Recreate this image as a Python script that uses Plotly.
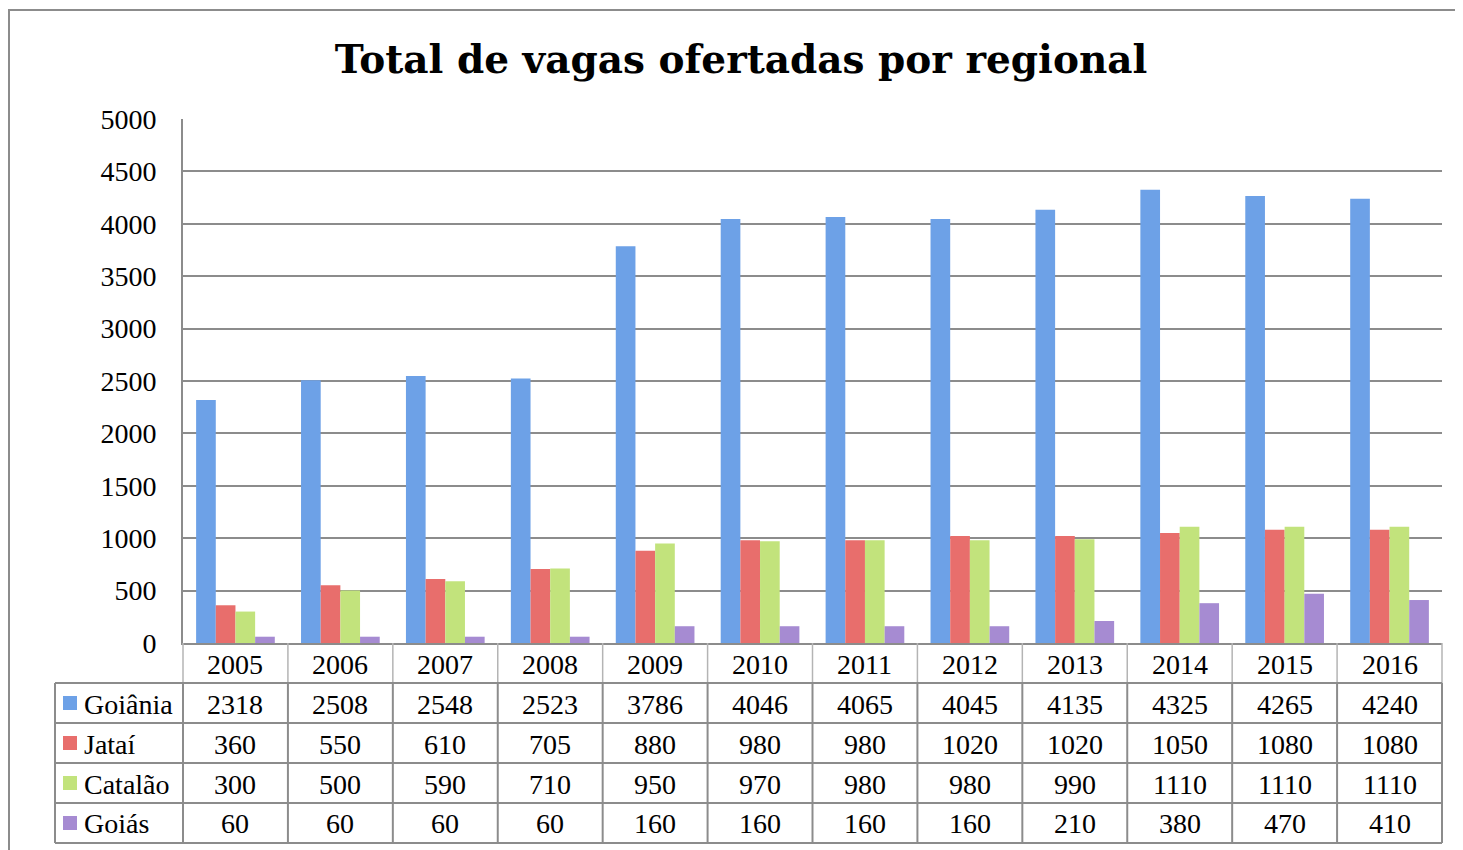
import plotly.graph_objects as go

years = ['2005', '2006', '2007', '2008', '2009', '2010', '2011', '2012', '2013', '2014', '2015', '2016']
goiania = [2318, 2508, 2548, 2523, 3786, 4046, 4065, 4045, 4135, 4325, 4265, 4240]
jatai = [360, 550, 610, 705, 880, 980, 980, 1020, 1020, 1050, 1080, 1080]
catalao = [300, 500, 590, 710, 950, 970, 980, 980, 990, 1110, 1110, 1110]
goias = [60, 60, 60, 60, 160, 160, 160, 160, 210, 380, 470, 410]
series_names = ['Goiânia', 'Jataí', 'Catalão', 'Goiás']
series_values = [goiania, jatai, catalao, goias]
colors = ['#6DA1E7', '#E86E6C', '#C2E37C', '#A68BD2']
title_text = 'Total de vagas ofertadas por regional'

FONT = 'Liberation Serif'
TITLE_FONT = 'DejaVu Serif'
OFF = 8  # page body margin
W, H = 1463, 850
L, R, T, B = 183 - OFF, 1442 - OFF, 119 - OFF, 643 - OFF  # plot area in figure pixels
GRID = '#8c8c8c'


def px_x(p):
    return (p - OFF - L) / (R - L)


def px_y(p):
    return (B - (p - OFF)) / (B - T)


fig = go.Figure()
for name, vals, col in zip(series_names, series_values, colors):
    fig.add_trace(go.Bar(x=years, y=vals, name=name, marker=dict(color=col, line=dict(width=0))))

shapes = []
annotations = []

# outer chart border
shapes.append(dict(type='rect', xref='paper', yref='paper', x0=px_x(9), x1=px_x(1490),
                   y0=px_y(880), y1=px_y(10), line=dict(color=GRID, width=2)))

n = len(years)
row_lines = [683, 723, 763, 803, 843]
# vertical lines of the table (category boundaries)
for i in range(n + 1):
    xb = i / n
    shapes.append(dict(type='line', xref='paper', yref='paper', x0=xb, x1=xb,
                       y0=px_y(643), y1=px_y(683), line=dict(color='#b4b4b4', width=1.5)))
    shapes.append(dict(type='line', xref='paper', yref='paper', x0=xb, x1=xb,
                       y0=px_y(683), y1=px_y(843), line=dict(color=GRID, width=2)))
# left edge of legend column
shapes.append(dict(type='line', xref='paper', yref='paper', x0=px_x(55), x1=px_x(55),
                   y0=px_y(683), y1=px_y(843), line=dict(color=GRID, width=2)))
# horizontal lines
for yl in row_lines:
    shapes.append(dict(type='line', xref='paper', yref='paper', x0=px_x(55), x1=1,
                       y0=px_y(yl), y1=px_y(yl), line=dict(color=GRID, width=2)))

col_centers = [(i + 0.5) / n for i in range(n)]

# header row: years
for xc, yr in zip(col_centers, years):
    annotations.append(dict(x=xc, xref='paper', y=px_y(664), yref='paper', text=yr, showarrow=False,
                            font=dict(family=FONT, size=28, color='black'), xanchor='center', yanchor='middle'))

row_centers = [704, 744, 784, 824]
for name, vals, col, yc in zip(series_names, series_values, colors, row_centers):
    shapes.append(dict(type='rect', xref='paper', yref='paper', x0=px_x(63), x1=px_x(77),
                       y0=px_y(yc + 6), y1=px_y(yc - 8), fillcolor=col, line=dict(width=0)))
    annotations.append(dict(x=px_x(82), xref='paper', y=px_y(yc), yref='paper', text=name, showarrow=False,
                            font=dict(family=FONT, size=28, color='black'), xanchor='left', yanchor='middle'))
    for xc, v in zip(col_centers, vals):
        annotations.append(dict(x=xc, xref='paper', y=px_y(yc), yref='paper', text=str(v), showarrow=False,
                                font=dict(family=FONT, size=28, color='black'), xanchor='center', yanchor='middle'))

fig.update_layout(
    width=W, height=H,
    margin=dict(l=L, r=W - R, t=T, b=H - B, autoexpand=False),
    paper_bgcolor='white', plot_bgcolor='white',
    barmode='group', bargap=0.25, bargroupgap=0,
    showlegend=False,
    title=dict(text='<b>' + title_text + '</b>', x=(741 - OFF) / W, xref='container', xanchor='center',
               y=1 - (59 - OFF) / H, yref='container', yanchor='middle',
               font=dict(family=TITLE_FONT, size=39, color='black')),
    xaxis=dict(type='category', range=[-0.5, n - 0.5], showticklabels=False, ticks='',
               showgrid=False, showline=True, linecolor=GRID, linewidth=2, fixedrange=True),
    yaxis=dict(range=[0, 5000], dtick=500, showgrid=True, gridcolor=GRID, gridwidth=1.5,
               showline=True, linecolor=GRID, linewidth=2, zeroline=False,
               ticks='outside', ticklen=19, tickcolor='rgba(0,0,0,0)',
               tickfont=dict(family=FONT, size=28, color='black')),
    shapes=shapes, annotations=annotations,
)

fig.write_html('out.html')
